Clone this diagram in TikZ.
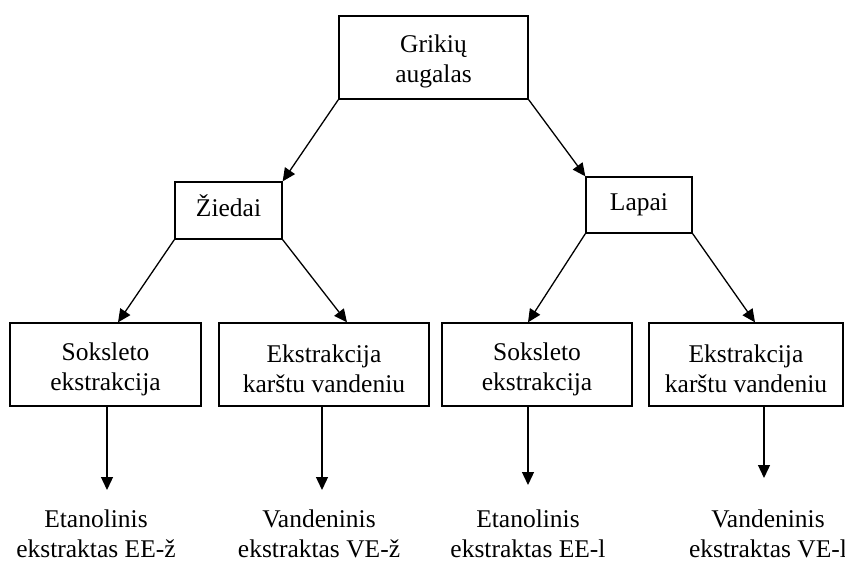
\documentclass[tikz,border=0pt]{standalone}
\usepackage{fontspec}
\setmainfont{Liberation Serif}
\usetikzlibrary{arrows.meta}
\begin{document}
\begin{tikzpicture}[x=1pt,y=-1pt,
  box/.style={draw=black,line width=1.3pt,inner sep=0pt,align=center,
    font=\fontsize{25.5}{30}\selectfont},
  label/.style={inner sep=0pt,align=center,anchor=north,
    font=\fontsize{25.5}{30}\selectfont},
  arr/.style={line width=1.3pt,-{Triangle[length=13pt,width=12pt]}}]
\useasboundingbox (0,0) rectangle (845,560);
% plant and its two parts
\node[box,minimum width=189pt,minimum height=83pt] (plant) at (433.5,57.5) {\rule{0pt}{25.5pt}Grikių\\augalas};
\node[box,minimum width=107pt,minimum height=57pt] (flowers) at (228.5,210.5) {\rule[-9pt]{0pt}{9pt}Žiedai};
\node[box,minimum width=106pt,minimum height=56pt] (leaves) at (639,205) {Lapai};
% extraction methods
\node[box,minimum width=191pt,minimum height=83pt] (sf) at (105.5,364.5) {\rule{0pt}{27pt}Soksleto\\ekstrakcija};
\node[box,minimum width=210pt,minimum height=83pt] (wf) at (324,364.5) {\rule{0pt}{27pt}Ekstrakcija\\karštu vandeniu};
\node[box,minimum width=190pt,minimum height=83pt] (sl) at (537,364.5) {\rule{0pt}{27pt}Soksleto\\ekstrakcija};
\node[box,minimum width=194pt,minimum height=83pt] (wl) at (746,364.5) {\rule{0pt}{27pt}Ekstrakcija\\karštu vandeniu};
% resulting extracts
\node[label] (ef) at (96,510) {Etanolinis\\ekstraktas EE-ž};
\node[label] (vf) at (319,510) {Vandeninis\\ekstraktas VE-ž};
\node[label] (el) at (528,510) {Etanolinis\\ekstraktas EE-l};
\node[label] (vl) at (768,510) {Vandeninis\\ekstraktas VE-l};
\coordinate (tef) at (107,490);
\coordinate (tvf) at (322,490);
\coordinate (tel) at (528,485);
\coordinate (tvl) at (764,478);
% connectors
\draw[arr] (plant.south west) -- (flowers.north east);
\draw[arr] (plant.south east) -- (leaves.north west);
\draw[arr] (flowers.south west) -- ([xshift=12.5pt]sf.north);
\draw[arr] (flowers.south east) -- ([xshift=23pt]wf.north);
\draw[arr] (leaves.south west) -- ([xshift=-9pt]sl.north);
\draw[arr] (leaves.south east) -- ([xshift=9pt]wl.north);
\draw[arr] (sf.south -| tef) -- (tef);
\draw[arr] (wf.south -| tvf) -- (tvf);
\draw[arr] (sl.south -| tel) -- (tel);
\draw[arr] (wl.south -| tvl) -- (tvl);
\end{tikzpicture}
\end{document}
